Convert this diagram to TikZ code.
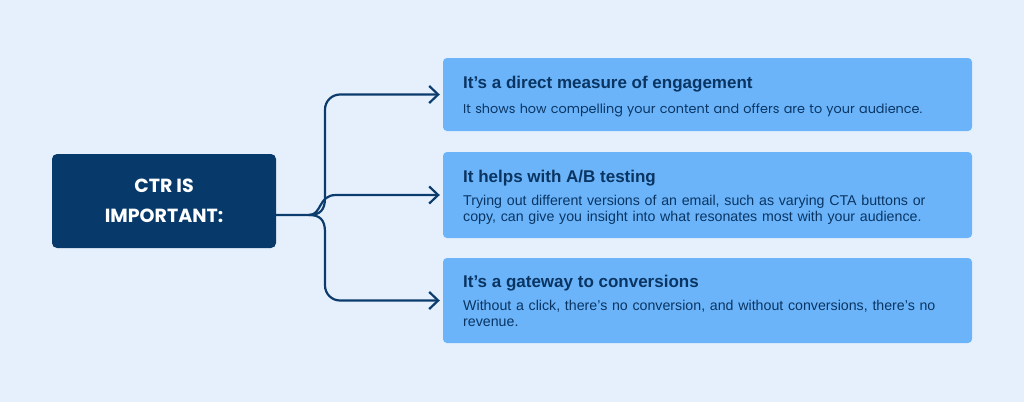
\documentclass[tikz,border=0pt]{standalone}
\usepackage{fontspec}
\setmainfont{Poppins}
\newfontfamily\interlike{Liberation Sans}
\usetikzlibrary{arrows.meta}
\definecolor{bg}{HTML}{E6F0FD}
\definecolor{navy}{HTML}{073A6B}
\definecolor{boxblue}{HTML}{6BB4F9}
\definecolor{txt}{HTML}{0A3563}
\definecolor{linec}{HTML}{0C3C6E}
\tikzset{
  x=1pt, y=-1pt,
  mainbox/.style={fill=navy, rounded corners=5pt, minimum width=224pt, minimum height=94pt, inner sep=0pt, text=white,
    font=\fontsize{19}{30}\selectfont\bfseries, align=center},
  infobox/.style={fill=boxblue, rounded corners=4pt, minimum width=529pt, inner sep=0pt},
  ttl/.style={anchor=base west, inner sep=0pt, text=txt, font=\interlike\fontsize{17}{20}\selectfont\bfseries},
  dsc/.style={anchor=base west, inner sep=0pt, text=txt, text width=500pt, align=left, font=\interlike\fontsize{14.2}{16.5}\selectfont},
  dscp/.style={anchor=base west, inner sep=0pt, text=txt, text width=500pt, align=left, font=\fontsize{12.8}{16.5}\selectfont},
  conn/.style={draw=linec, line width=2.2pt, -{Straight Barb[length=9pt,width=17pt,line width=2.2pt]}},
}
\begin{document}
\begin{tikzpicture}
\useasboundingbox[fill=bg] (0,0) rectangle (1024,402);
\node[mainbox] (ctr) at (164,201) {CTR IS\\IMPORTANT:};
\node[infobox, minimum height=73pt] (b1) at (707.5,94.5) {};
\node[infobox, minimum height=86pt] (b2) at (707.5,195) {};
\node[infobox, minimum height=85pt] (b3) at (707.5,300.5) {};
\node[ttl] (t1) at (463,88) {It’s a direct measure of engagement};
\node[dscp] (d1) at (463,113) {It shows how compelling your content and offers are to your audience.};
\node[ttl] (t2) at (463,182) {It helps with A/B testing};
\node[dsc] (d2) at (463,205) {Trying out different versions of an email, such as varying CTA buttons or\\copy, can give you insight into what resonates most with your audience.};
\node[ttl] (t3) at (463,287) {It’s a gateway to conversions};
\node[dsc] (d3) at (463,310) {Without a click, there’s no conversion, and without conversions, there’s no\\revenue.};
\coordinate (j) at (309,215);
\draw[conn] (ctr.east |- j) -- (j) .. controls (320,215) and (325,210) .. (325,198) {[rounded corners=15pt] -- (325,94.5) -- ([xshift=-3pt]b1.west)};
\draw[conn] (j) .. controls (322,215) and (318,195) .. (336,195) -- ([xshift=-3pt]b2.west);
\draw[conn] (j) .. controls (320,215) and (325,220) .. (325,232) {[rounded corners=15pt] -- (325,300.5) -- ([xshift=-3pt]b3.west)};
\end{tikzpicture}
\end{document}
